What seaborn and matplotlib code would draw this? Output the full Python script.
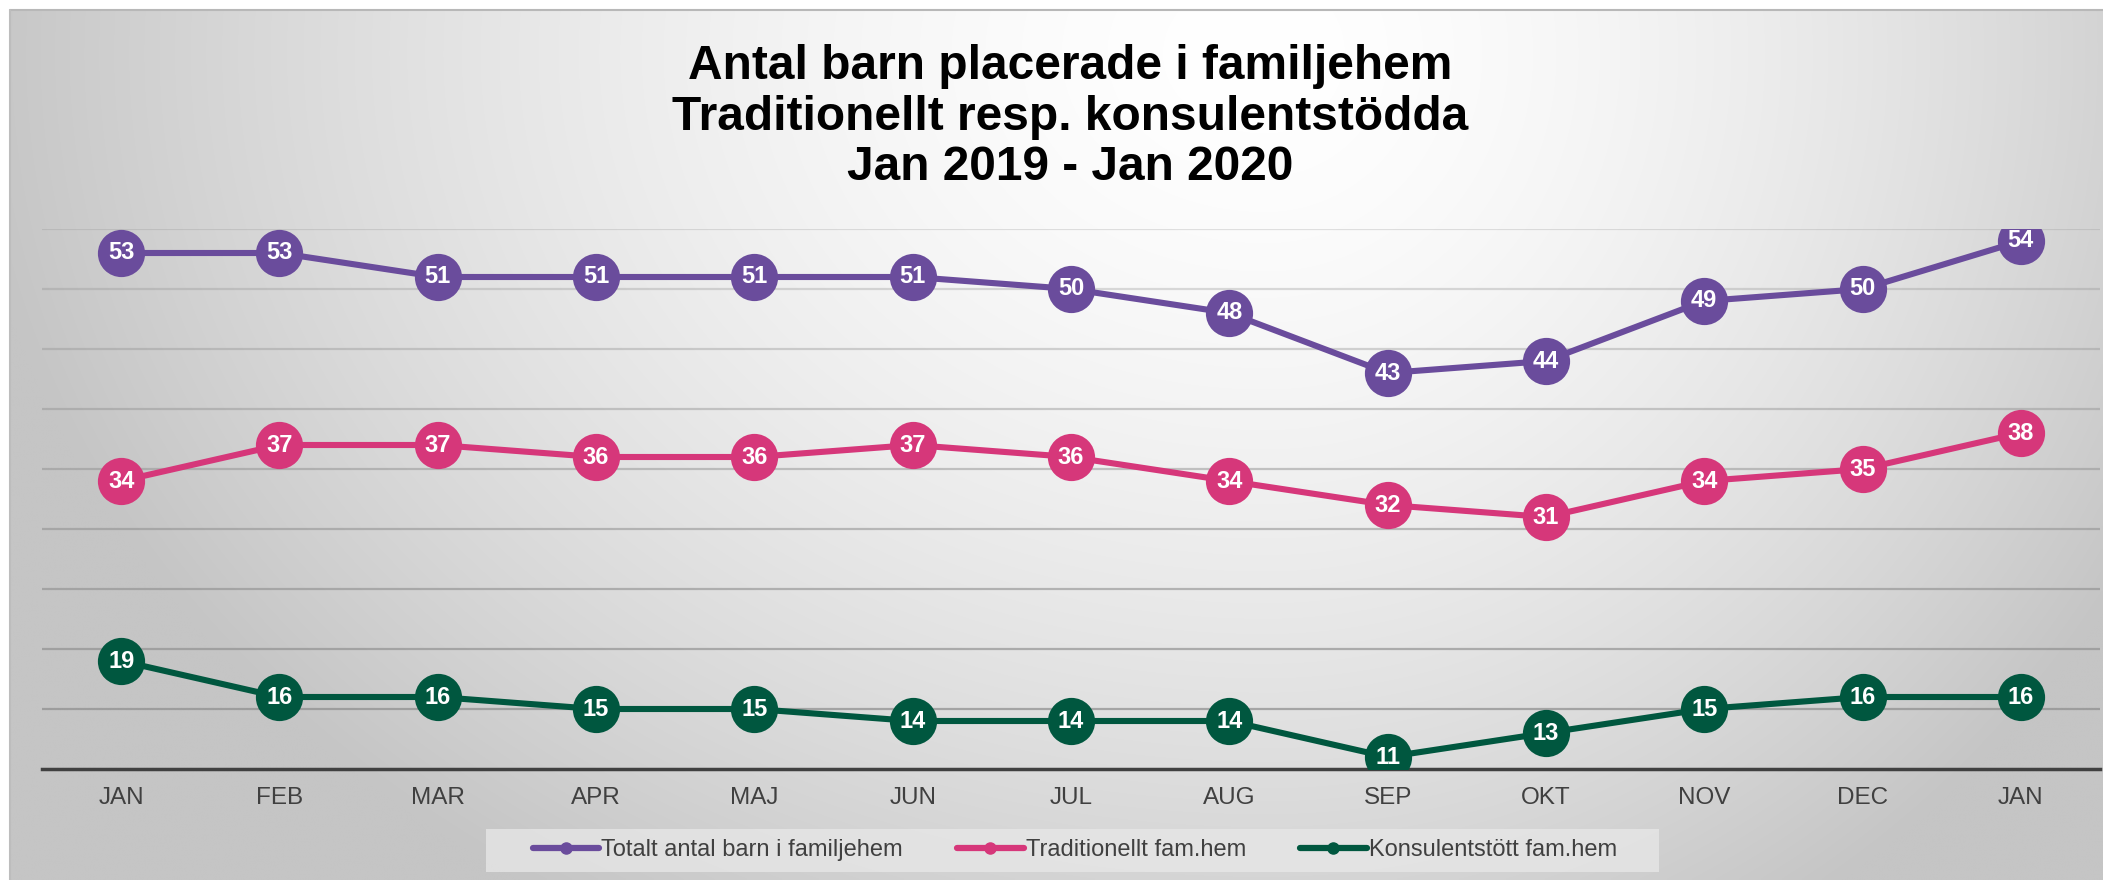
import matplotlib
matplotlib.use('Agg')
import matplotlib.pyplot as plt
from matplotlib.lines import Line2D
from matplotlib.patches import Rectangle
import seaborn as sns
import pandas as pd
import numpy as np

# data
months = ['JAN', 'FEB', 'MAR', 'APR', 'MAJ', 'JUN', 'JUL', 'AUG', 'SEP', 'OKT', 'NOV', 'DEC', 'JAN']
series_names = ['Totalt antal barn i familjehem', 'Traditionellt fam.hem', 'Konsulentstött fam.hem']
totalt = [53, 53, 51, 51, 51, 51, 50, 48, 43, 44, 49, 50, 54]
traditionellt = [34, 37, 37, 36, 36, 37, 36, 34, 32, 31, 34, 35, 38]
konsulent = [19, 16, 16, 15, 15, 14, 14, 14, 11, 13, 15, 16, 16]
colors = ['#6A4C9C', '#D6377A', '#00573F']
title = 'Antal barn placerade i familjehem\nTraditionellt resp. konsulentstödda\nJan 2019 - Jan 2020'

sns.set_style('white')
plt.rcParams['font.family'] = ['Liberation Sans', 'DejaVu Sans']

rows = []
for name, vals in zip(series_names, [totalt, traditionellt, konsulent]):
    for i, v in enumerate(vals):
        rows.append({'pos': i, 'value': v, 'serie': name})
df = pd.DataFrame(rows)

W, H = 2103, 880
fig = plt.figure(figsize=(W / 100, H / 100), dpi=100)
fig.patch.set_facecolor('white')

# panel background with radial gradient (white near top centre)
bg = fig.add_axes([10 / W, 0, 1 - 10 / W, 870 / H], zorder=-2)
gx, gy = np.meshgrid(np.linspace(0, 1, 700), np.linspace(0, 1, 300))
cx = 0.6
dx = np.where(gx < cx, (gx - cx) / 0.62, (gx - cx) / 0.48)
dy = (gy - 0.05) / 1.16
r = np.clip(np.sqrt(dx ** 2 + dy ** 2), 0, 1)
shade = (255 - 58 * r ** 1.6) / 255
bg.imshow(np.dstack([shade, shade, shade]), aspect='auto', extent=[0, 1, 1, 0], interpolation='bilinear')
bg.set_xlim(0, 1)
bg.set_ylim(1, 0)
bg.axis('off')
fig.add_artist(Line2D([10 / W, 1], [870 / H, 870 / H], color='#b8b8b8', lw=1.5))
fig.add_artist(Line2D([10 / W, 10 / W], [0, 870 / H], color='#bdbdbd', lw=1.5))

ax = fig.add_axes([42 / W, 111 / H, 2058 / W, 540 / H])
ax.set_facecolor('none')

sns.lineplot(data=df, x='pos', y='value', hue='serie', palette=colors, marker='o',
             markersize=34, markeredgewidth=0, linewidth=4.4, sort=False,
             legend=False, ax=ax, zorder=3)

for name, vals in zip(series_names, [totalt, traditionellt, konsulent]):
    for i, v in enumerate(vals):
        ax.text(i, v, str(v), color='white', fontsize=17, fontweight='bold',
                ha='center', va='center', zorder=5, clip_on=False)

ax.set_xlim(-0.5, 12.5)
ax.set_ylim(10, 55)
# gridlines: lighter towards the top
for yv in np.arange(15, 56, 5):
    ax.axhline(yv, color='#8c8c8c', lw=1.6, alpha=0.25 + 0.45 * (55 - yv) / 40, zorder=1)
ax.set_yticks([])
ax.set_xticks(range(len(months)))
ax.set_xticklabels(months, fontsize=17.5, color='#404040')
ax.tick_params(axis='both', length=0)
ax.tick_params(axis='x', pad=13)
ax.set_xlabel('')
ax.set_ylabel('')
for s in ['top', 'right', 'left']:
    ax.spines[s].set_visible(False)
ax.spines['bottom'].set_color('#404040')
ax.spines['bottom'].set_linewidth(2.5)
ax.spines['bottom'].set_zorder(2)

fig.text(1070 / W, 1 - 117 / H, title, ha='center', va='center', fontsize=34.5,
         fontweight='bold', color='black', linespacing=1.15, multialignment='center')

# legend
fig.add_artist(Rectangle((486 / W, 8 / H), 1173 / W, 43 / H, transform=fig.transFigure,
                         facecolor='#e8e8e8', alpha=0.75, edgecolor='none'))
handles = [Line2D([0], [0], color=c, lw=4.5, marker='o', markersize=8,
                  solid_capstyle='round') for c in colors]
fig.legend(handles, series_names, loc='center', bbox_to_anchor=(1075 / W, 30 / H),
           ncol=3, frameon=False, fontsize=17, handlelength=2.8, handletextpad=0.1,
           columnspacing=2.3, labelcolor='#404040')

fig.savefig('out.png', dpi=100)
